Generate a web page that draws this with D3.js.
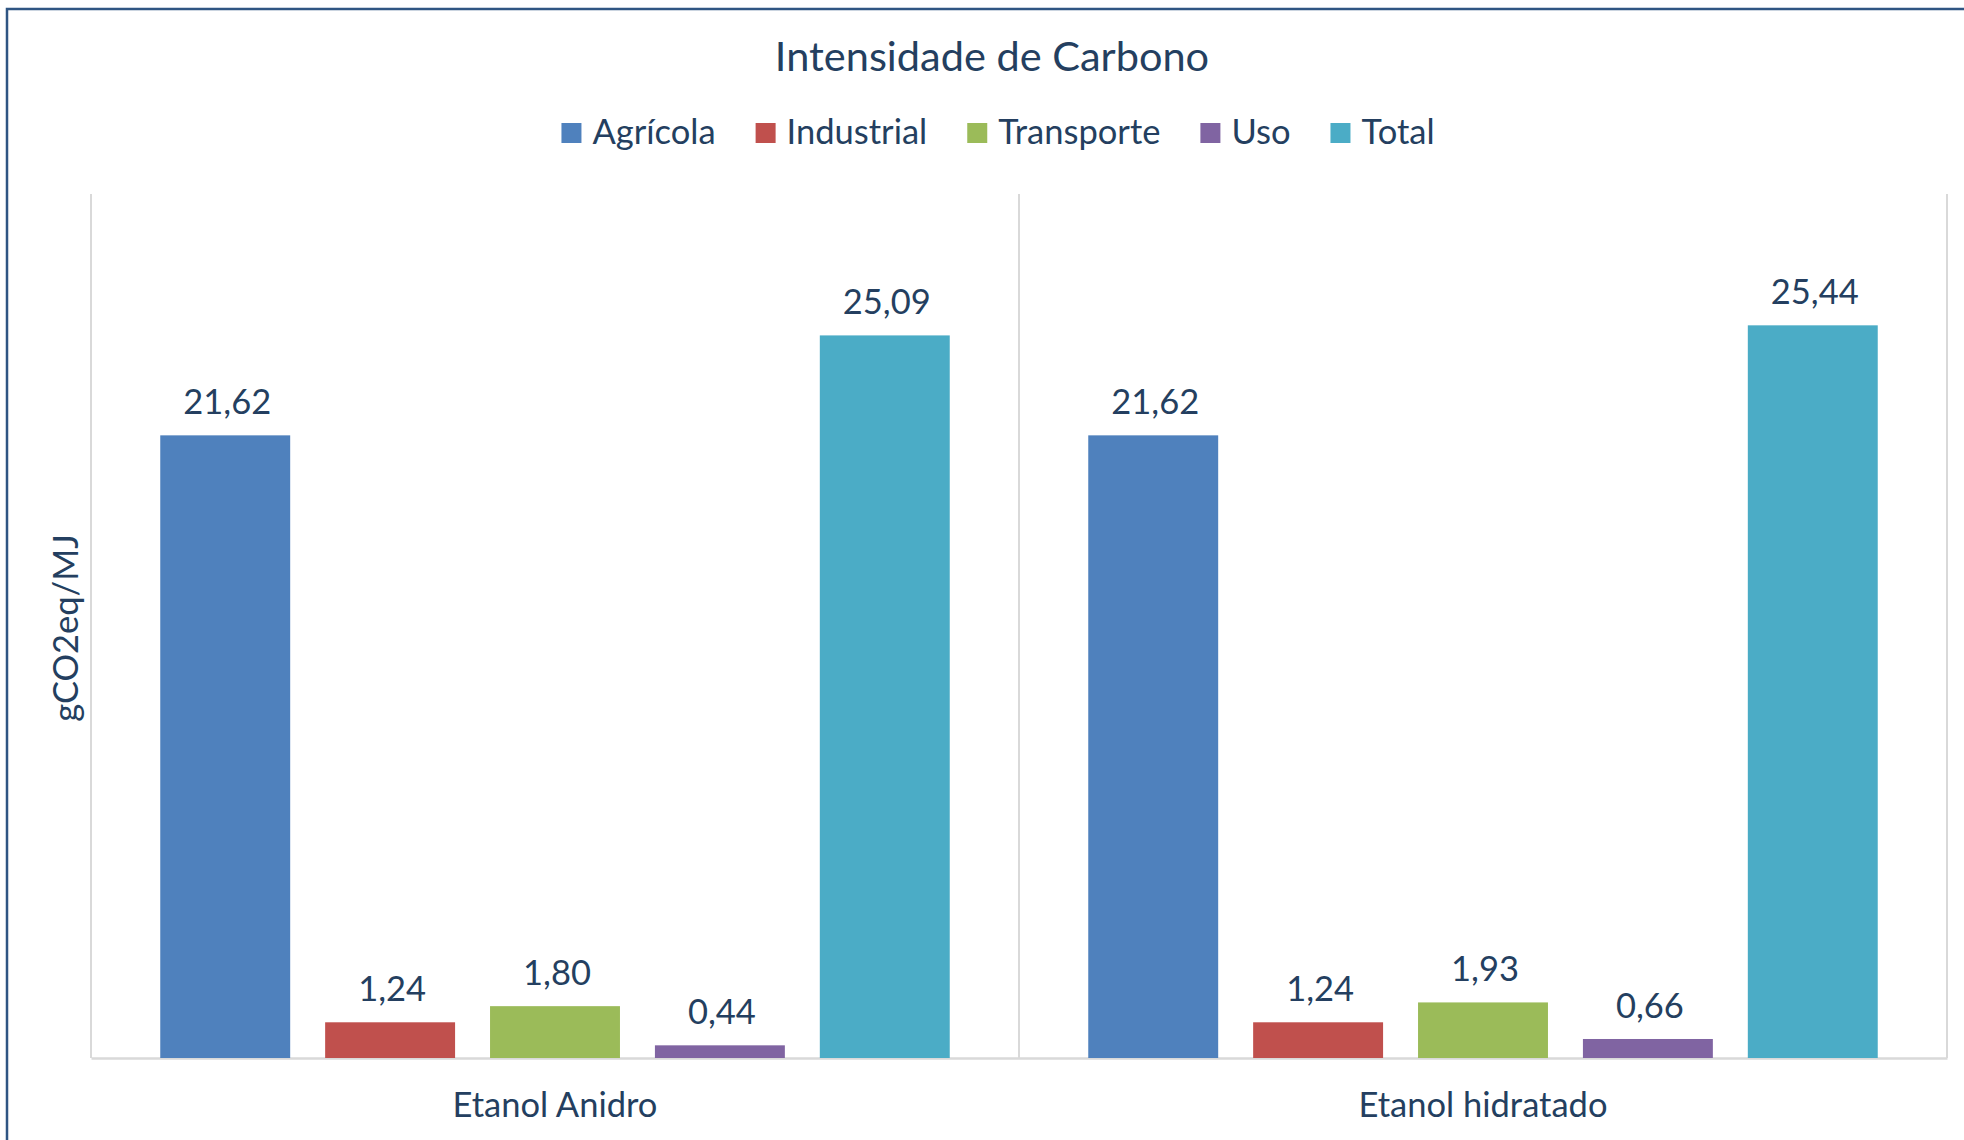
<!DOCTYPE html>
<html>
<head>
<meta charset="utf-8">
<script src="https://cdn.jsdelivr.net/npm/d3@7"></script>
<style>
    html, body { margin: 0; padding: 0; background: #fff; }
    #chart { width: 1964px; height: 1140px; }
    text { font-family: Lato, "Open Sans", sans-serif; fill: #243f60; }
</style>
</head>
<body>
<div id="chart"></div>
<script>
// data
var categories = ['Etanol Anidro', 'Etanol hidratado'];
var seriesNames = ['Agrícola', 'Industrial', 'Transporte', 'Uso', 'Total'];
var agricola = [21.62, 21.62];
var industrial = [1.24, 1.24];
var transporte = [1.80, 1.93];
var uso = [0.44, 0.66];
var total = [25.09, 25.44];
var colors = ['#4f81bd', '#c0504d', '#9bbb59', '#8064a2', '#4bacc6'];

var Chart = function() {

    var _Chart = function (opts) {
        this.element = opts.element;
        this.series = opts.series;
        this.__init();
    }

    _Chart.prototype = {
        __init: function() {
            this.width = 1964;
            this.height = 1140;
            this.plot = { left: 91, right: 1947, top: 194, bottom: 1058 };
            this.fontSize = 34.5;
            this.locale = d3.formatLocale({ decimal: ',', thousands: '.', grouping: [3], currency: ['', ''] });
            this.__draw();
        },
        __draw: function() {
            this.element.innerHTML = '';
            this.svg = d3.select(this.element)
                .append('svg')
                .attr('width', this.width)
                .attr('height', this.height);

            // outer frame
            this.svg.append('rect')
                .attr('x', 7).attr('y', 9)
                .attr('width', 2100).attr('height', 2100)
                .style('fill', '#fff')
                .style('stroke', '#2f5583')
                .style('stroke-width', 2.5);

            this.__createScales();
            this.__addGrid();
            this.__addBars();
            this.__addTexts();
            this.__addLegend();
        },
        __createScales: function() {
            var p = this.plot;
            this.x0 = d3.scaleBand()
                .domain(categories)
                .range([p.left, p.right])
                .padding(0);
            this.x1 = d3.scaleBand()
                .domain(seriesNames)
                .range([0, this.x0.bandwidth()])
                .paddingInner(0.212)
                .paddingOuter(0.42);
            this.y = d3.scaleLinear()
                .domain([0, 30])
                .range([p.bottom, p.top]);
        },
        __addGrid: function() {
            var p = this.plot;
            var _this = this;
            var bounds = categories.map(function (c) { return _this.x0(c); }).concat([p.right]);
            this.svg.append('g').selectAll('line')
                .data(bounds)
                .enter().append('line')
                .attr('x1', function (d) { return d; })
                .attr('x2', function (d) { return d; })
                .attr('y1', p.top)
                .attr('y2', p.bottom)
                .style('stroke', '#d9d9d9')
                .style('stroke-width', 2);

            // category axis at the bottom
            var xAxis = d3.axisBottom(this.x0).tickSize(0).tickPadding(0);
            var ax = this.svg.append('g')
                .attr('class', 'x-axis')
                .attr('transform', 'translate(0,' + p.bottom + ')')
                .call(xAxis);
            ax.select('.domain').style('stroke', '#d9d9d9').style('stroke-width', 2.5);
            ax.selectAll('text')
                .attr('dy', null)
                .attr('y', 59)
                .style('font-size', this.fontSize + 'px')
                .style('font-family', 'Lato')
                .style('fill', '#243f60');
        },
        __addBars: function() {
            var _this = this;
            var fmt = this.locale.format('.2f');
            var groups = this.svg.append('g').selectAll('g')
                .data(categories)
                .enter().append('g')
                .attr('transform', function (c) { return 'translate(' + _this.x0(c) + ',0)'; });

            groups.selectAll('rect')
                .data(function (c, i) {
                    return _this.series.map(function (s) { return { name: s.name, value: s.values[i], color: s.color }; });
                })
                .enter().append('rect')
                .attr('x', function (d) { return _this.x1(d.name); })
                .attr('width', this.x1.bandwidth())
                .attr('y', function (d) { return _this.y(d.value); })
                .attr('height', function (d) { return _this.y(0) - _this.y(d.value); })
                .style('fill', function (d) { return d.color; });

            groups.selectAll('text.label')
                .data(function (c, i) {
                    return _this.series.map(function (s) { return { name: s.name, value: s.values[i] }; });
                })
                .enter().append('text')
                .attr('class', 'label')
                .attr('x', function (d) { return _this.x1(d.name) + _this.x1.bandwidth() / 2 + 2; })
                .attr('y', function (d) { return _this.y(d.value) - 21; })
                .attr('text-anchor', 'middle')
                .style('font-size', this.fontSize + 'px')
                .text(function (d) { return fmt(d.value); });
        },
        __addTexts: function() {
            this.svg.append('text')
                .attr('x', 992)
                .attr('y', 71)
                .attr('text-anchor', 'middle')
                .style('font-size', '41.5px')
                .text('Intensidade de Carbono');

            this.svg.append('text')
                .attr('transform', 'translate(78,' + ((this.plot.top + this.plot.bottom) / 2 + 2) + ') rotate(-90)')
                .attr('text-anchor', 'middle')
                .style('font-size', this.fontSize + 'px')
                .text('gCO2eq/MJ');
        },
        __addLegend: function() {
            var box = 20, pad = 11, gap = 40;
            var fs = this.fontSize;
            var lg = this.svg.append('g');
            var items = lg.selectAll('g')
                .data(this.series)
                .enter().append('g');
            items.append('rect')
                .attr('width', box).attr('height', box)
                .attr('y', 123)
                .style('fill', function (d) { return d.color; });
            items.append('text')
                .attr('x', box + pad)
                .attr('y', 144)
                .style('font-size', fs + 'px')
                .text(function (d) { return d.name; });

            // lay items out one after another, then center the row
            var xPos = 0;
            items.each(function () {
                var w = box + pad + d3.select(this).select('text').node().getComputedTextLength();
                d3.select(this).attr('transform', 'translate(' + xPos + ',0)');
                xPos += w + gap;
            });
            var totalW = xPos - gap;
            lg.attr('transform', 'translate(' + (998 - totalW / 2) + ',0)');
        }
    }

    return _Chart;
}.call(this);

var chart = new Chart({
    element: document.getElementById('chart'),
    series: [
        { name: seriesNames[0], values: agricola, color: colors[0] },
        { name: seriesNames[1], values: industrial, color: colors[1] },
        { name: seriesNames[2], values: transporte, color: colors[2] },
        { name: seriesNames[3], values: uso, color: colors[3] },
        { name: seriesNames[4], values: total, color: colors[4] }
    ]
});
</script>
</body>
</html>
